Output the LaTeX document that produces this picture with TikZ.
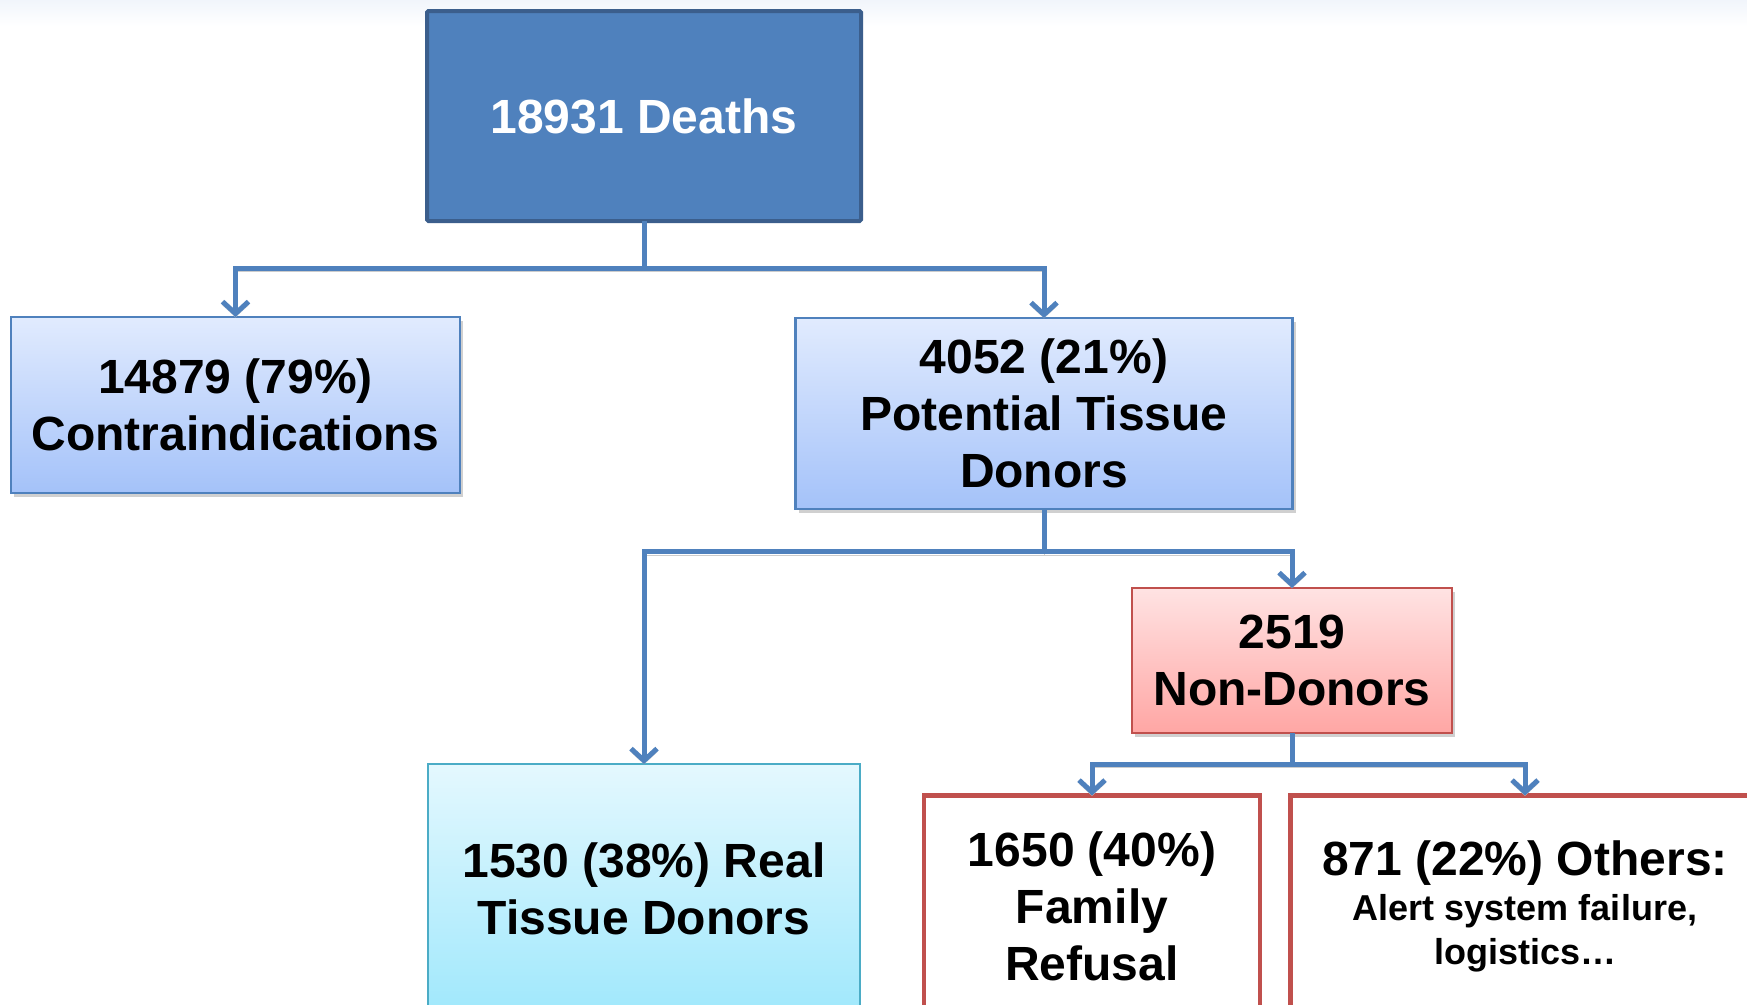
\documentclass[tikz,border=0pt]{standalone}
\usepackage{fontspec}
\setmainfont{Liberation Sans}
\usetikzlibrary{arrows.meta,shadows}
\definecolor{cBlue}{HTML}{4F81BD}
\definecolor{cBlueDark}{HTML}{3B5E8C}
\definecolor{cBlueTop}{HTML}{E1EBFE}
\definecolor{cBlueBot}{HTML}{A4C2F9}
\definecolor{cRed}{HTML}{C0504D}
\definecolor{cRedTop}{HTML}{FFE3E3}
\definecolor{cRedBot}{HTML}{FFA6A4}
\definecolor{cCyan}{HTML}{4BACC6}
\definecolor{cCyanTop}{HTML}{E4F8FE}
\definecolor{cCyanBot}{HTML}{A0E8FC}
\definecolor{cStrip}{HTML}{F1F5FB}
\begin{document}
\begin{tikzpicture}[x=1pt,y=-1pt,
  every node/.style={font=\bfseries\fontsize{48}{57}\selectfont, align=center, inner sep=0pt, outer sep=0pt},
  boxshadow/.style={drop shadow={shadow xshift=3pt, shadow yshift=-4pt, fill=black!30, opacity=0.6}},
  deathbox/.style={fill=cBlue, draw=cBlueDark, line width=4pt, rounded corners=1.5pt, text=white},
  bluebox/.style={top color=cBlueTop, bottom color=cBlueBot, draw=cBlue, line width=2.5pt, boxshadow},
  redbox/.style={top color=cRedTop, bottom color=cRedBot, draw=cRed, line width=2.5pt, boxshadow},
  cyanbox/.style={top color=cCyanTop, bottom color=cCyanBot, draw=cCyan, line width=2.5pt},
  whitebox/.style={fill=white, draw=cRed, line width=4.5pt},
  conn/.style={draw=cBlue, line width=5pt, -{Straight Barb[length=12pt,width=26pt]},
    preaction={draw=black!20, transform canvas={yshift=-3.5pt}}},
  bus/.style={draw=cBlue, line width=5pt,
    preaction={draw=black!20, transform canvas={yshift=-3.5pt}}}
]
\useasboundingbox (0,0) rectangle (1747,1004);
\fill[white] (0,0) rectangle (1747,1004);
\shade[top color=cStrip, bottom color=white] (0,0) rectangle (1747,26);

\node[deathbox, minimum width=434pt, minimum height=210pt] (deaths) at (644,116) {18931 Deaths};
\node[bluebox, minimum width=449pt, minimum height=176pt] (contra) at (235.5,405) {14879 (79\%)\\Contraindications};
\node[bluebox, minimum width=497pt, minimum height=191pt] (potential) at (1044,413.5) {4052 (21\%)\\Potential Tissue\\Donors};
\node[redbox, minimum width=320pt, minimum height=145pt] (nondonors) at (1292,660.5) {2519\\Non-Donors};
\node[cyanbox, minimum width=432pt, minimum height=250pt] (real) at (644,889) {1530 (38\%) Real\\Tissue Donors};
\node[whitebox, minimum width=336pt, minimum height=222pt] (family) at (1092,906.5) {1650 (40\%)\\Family\\Refusal};
\node[whitebox, minimum width=469pt, minimum height=222pt] (others) at (1525,906.5) {871 (22\%) Others:\\[-12pt]\fontsize{36}{44}\selectfont Alert system failure,\\[-13pt]\fontsize{36}{44}\selectfont logistics…};

\coordinate (bus1) at (0,268);
\coordinate (bus2) at (0,551.5);
\coordinate (bus3) at (0,764);

\draw[bus] (deaths.south) -- (deaths.south |- bus1);
\draw[conn] (deaths.south |- bus1) -| (contra.north);
\draw[conn] (deaths.south |- bus1) -| (potential.north);

\draw[bus] (potential.south) -- (potential.south |- bus2);
\draw[conn] (potential.south |- bus2) -| (real.north);
\draw[conn] (potential.south |- bus2) -| (nondonors.north);

\draw[bus] (nondonors.south) -- (nondonors.south |- bus3);
\draw[conn] (nondonors.south |- bus3) -| (family.north);
\draw[conn] (nondonors.south |- bus3) -| (others.north);
\end{tikzpicture}
\end{document}
